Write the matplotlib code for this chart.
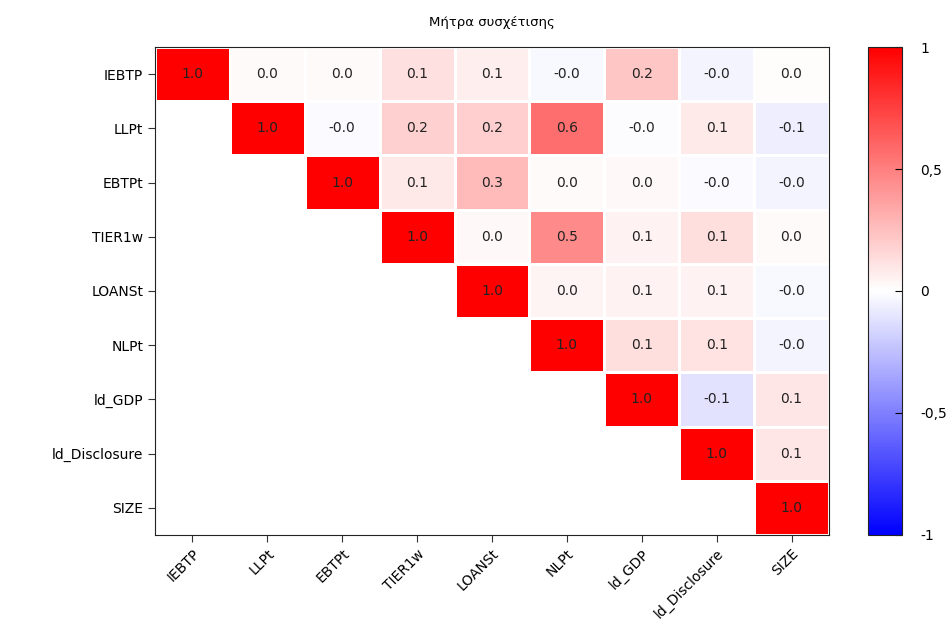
import numpy as np
import matplotlib
matplotlib.use("Agg")
import matplotlib.pyplot as plt
from matplotlib.ticker import FuncFormatter

labels = ["IEBTP", "LLPt", "EBTPt", "TIER1w", "LOANSt", "NLPt",
          "ld_GDP", "ld_Disclosure", "SIZE"]

# upper triangle of the correlation matrix, row by row (from the diagonal)
r_iebtp = [1.0, 0.02, 0.02, 0.12, 0.07, -0.03, 0.22, -0.04, 0.01]
r_llpt = [1.0, -0.02, 0.18, 0.19, 0.57, -0.01, 0.08, -0.07]
r_ebtpt = [1.0, 0.09, 0.27, 0.02, 0.03, -0.02, -0.04]
r_tier = [1.0, 0.03, 0.46, 0.05, 0.13, 0.02]
r_loans = [1.0, 0.04, 0.05, 0.05, -0.03]
r_nlpt = [1.0, 0.13, 0.11, -0.04]
r_gdp = [1.0, -0.11, 0.10]
r_disc = [1.0, 0.10]
r_size = [1.0]

rows = [r_iebtp, r_llpt, r_ebtpt, r_tier, r_loans, r_nlpt, r_gdp, r_disc, r_size]
n = len(labels)
corr = np.full((n, n), np.nan)
for i, r in enumerate(rows):
    corr[i, i:] = r
data = np.ma.masked_invalid(corr)

plt.rcParams['font.family'] = ['DejaVu Sans']
fig = plt.figure(figsize=(9.52, 6.26), dpi=100)
ax = fig.add_axes([0.1628, 0.1454, 0.7080, 0.7795])
cax = fig.add_axes([0.9118, 0.1454, 0.0357, 0.7795])

mesh = ax.pcolormesh(data, cmap='bwr', vmin=-1, vmax=1,
                     edgecolors='white', linewidth=1.0)
ax.set_xlim(0, n)
ax.set_ylim(n, 0)

for i in range(n):
    for j in range(i, n):
        ax.text(j + 0.5, i + 0.5, format(corr[i, j], '.1f'),
                ha='center', va='center', fontsize=10, color='#222222')

ax.set_xticks(np.arange(n) + 0.5)
ax.set_yticks(np.arange(n) + 0.5)
ax.set_xticklabels(labels, rotation=45, ha='right', rotation_mode='anchor',
                   fontsize=10)
ax.set_yticklabels(labels, fontsize=10)
ax.tick_params(length=5, color='#333333')
for s in ax.spines.values():
    s.set_color('#222222')

ax.set_title('Μήτρα συσχέτισης', fontsize=9.5, pad=15)

cb = fig.colorbar(mesh, cax=cax, ticks=[-1, -0.5, 0, 0.5, 1])
cb.ax.yaxis.set_major_formatter(
    FuncFormatter(lambda v, p: ('%g' % v).replace('.', ',')))
cb.ax.tick_params(labelsize=10, direction='in', length=5, pad=13)
cb.outline.set_edgecolor('#222222')

fig.savefig('out.png', dpi=100)
